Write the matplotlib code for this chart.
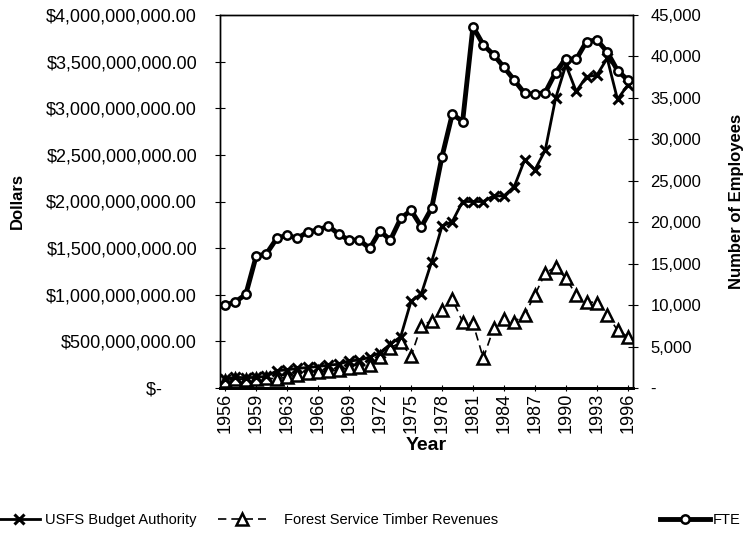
import matplotlib
matplotlib.use("Agg")
import matplotlib.pyplot as plt
from matplotlib.ticker import FixedLocator, FuncFormatter

plt.rcParams["font.family"] = ["Liberation Sans", "DejaVu Sans"]

# ---------------------------------------------------------------------------
# Data (one fiscal year is missing after 1959)
# ---------------------------------------------------------------------------
years = [1956, 1957, 1958, 1959, 1961, 1962, 1963, 1964, 1965, 1966,
         1967, 1968, 1969, 1970, 1971, 1972, 1973, 1974, 1975, 1976,
         1977, 1978, 1979, 1980, 1981, 1982, 1983, 1984, 1985, 1986,
         1987, 1988, 1989, 1990, 1991, 1992, 1993, 1994, 1995, 1996]

# dollars, millions
budget_m = [100, 115, 110, 115, 125, 185, 195, 210, 220, 230,
            245, 255, 290, 300, 330, 380, 470, 550, 930, 1010,
            1355, 1735, 1785, 2000, 2000, 2000, 2060, 2060, 2160, 2445,
            2340, 2550, 3105, 3465, 3180, 3340, 3355, 3535, 3095, 3250]

timber_m = [80, 95, 90, 100, 105, 100, 115, 140, 160, 170,
            180, 190, 215, 230, 250, 330, 430, 490, 340, 670,
            720, 840, 950, 710, 695, 320, 640, 745, 710, 785,
            1000, 1230, 1300, 1175, 1000, 925, 915, 785, 620, 550]

fte = [10000, 10400, 11300, 15900, 16200, 18050, 18450, 18050, 18850, 19050,
       19550, 18550, 17850, 17850, 16850, 18950, 17850, 20450, 21450, 19450,
       21700, 27900, 33050, 32150, 43600, 41400, 40200, 38700, 37150, 35550,
       35450, 35650, 38050, 39750, 39650, 41800, 42000, 40550, 38300, 37150]

dollar_ticks = [0, 5e8, 1e9, 1.5e9, 2e9, 2.5e9, 3e9, 3.5e9, 4e9]
fte_ticks = [0, 5000, 10000, 15000, 20000, 25000, 30000, 35000, 40000, 45000]


def dollar_fmt(v, _pos):
    if v == 0:
        return "$-       "
    return f"${v:,.2f}"


def fte_fmt(v, _pos):
    if v == 0:
        return "-"
    return f"{v:,.0f}"


fig = plt.figure(figsize=(7.44, 5.38), dpi=100)
ax = fig.add_axes([220 / 744, 1 - 388 / 538, 413 / 744, 373 / 538])
ax2 = ax.twinx()

x = list(range(len(years)))
budget = [v * 1e6 for v in budget_m]
timber = [v * 1e6 for v in timber_m]

l1, = ax.plot(x, budget, color="black", lw=2.0, marker="x", ms=7, mew=2.2,
              label="USFS Budget Authority", zorder=3)
l2, = ax.plot(x, timber, color="black", lw=1.2, ls=(0, (5, 3)), marker="^",
              ms=8, mfc="white", mec="black", mew=1.8,
              label="Forest Service Timber Revenues", zorder=2)
l3, = ax2.plot(x, fte, color="black", lw=3.5, marker="o", ms=6,
               mfc="white", mec="black", mew=1.8, label="FTE", zorder=3)

ax.set_xlim(-0.5, len(years) - 0.5)
ax.set_ylim(0, 4e9)
ax2.set_ylim(0, 45000)

ax.yaxis.set_major_locator(FixedLocator(dollar_ticks))
ax.yaxis.set_major_formatter(FuncFormatter(dollar_fmt))
ax2.yaxis.set_major_locator(FixedLocator(fte_ticks))
ax2.yaxis.set_major_formatter(FuncFormatter(fte_fmt))

label_idx = list(range(0, len(years), 3))
ax.set_xticks(label_idx)
ax.set_xticklabels([str(years[i]) for i in label_idx], rotation=90,
                   fontsize=13)
ax.tick_params(axis="x", direction="inout", length=5, width=0.8, pad=1)
ax.tick_params(axis="y", direction="inout", length=7, width=0.8, pad=13,
               labelsize=13)
ax2.tick_params(axis="y", direction="inout", length=7, width=0.8, pad=9,
                labelsize=12)

for a in (ax, ax2):
    for s in a.spines.values():
        s.set_linewidth(1.0)
    a.spines["bottom"].set_linewidth(2.0)

fig.text(426 / 744, 1 - 445 / 538, "Year", ha="center", va="center",
         fontsize=14, fontweight="bold")
fig.text(17 / 744, 1 - 201 / 538, "Dollars", ha="center", va="center",
         rotation=90, fontsize=12, fontweight="bold")
fig.text(736 / 744, 1 - 201 / 538, "Number of Employees", ha="center",
         va="center", rotation=90, fontsize=12, fontweight="bold")

# legend entries spread across the bottom like the original
legend_kw = dict(frameon=False, fontsize=10.5, borderpad=0, borderaxespad=0,
                 loc="center left")
fig.legend(handles=[l1], handlelength=2.9, handletextpad=0.3,
           bbox_to_anchor=(-2 / 744, 1 - 520 / 538), **legend_kw)
fig.legend(handles=[l2], handlelength=3.3, handletextpad=1.2,
           bbox_to_anchor=(218 / 744, 1 - 520 / 538), **legend_kw)
fig.legend(handles=[l3], handlelength=3.4, handletextpad=0.2,
           bbox_to_anchor=(660 / 744, 1 - 520 / 538), **legend_kw)

fig.savefig("out.png", dpi=100, facecolor="white")
